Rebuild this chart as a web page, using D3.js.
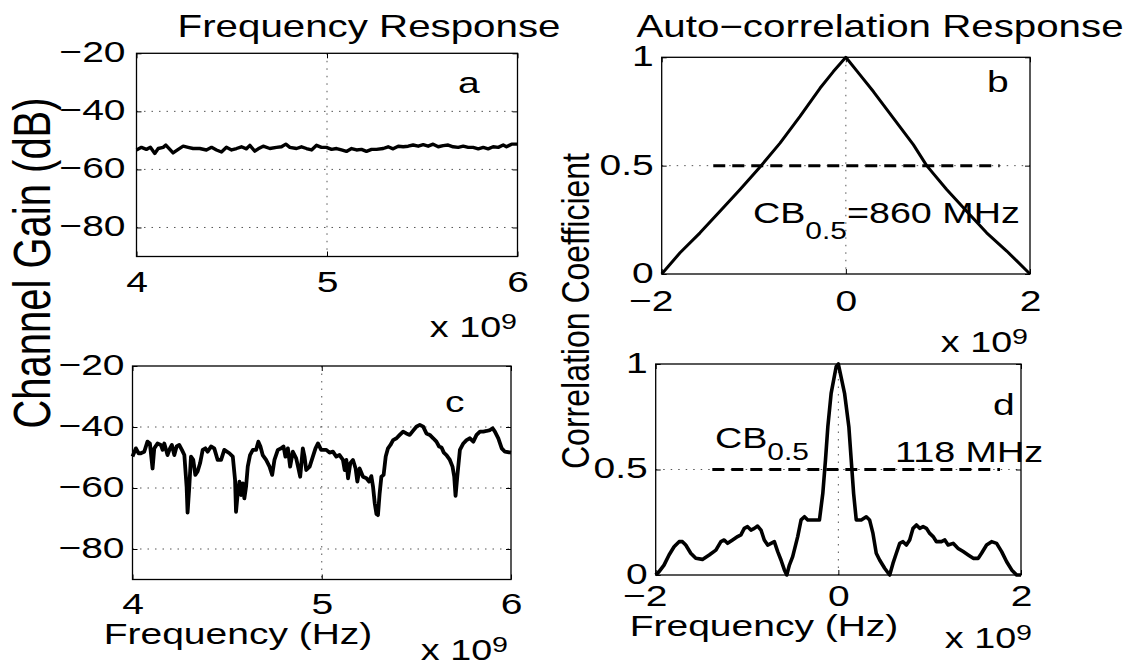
<!DOCTYPE html>
<html>
<head>
<meta charset="utf-8">
<script src="https://cdn.jsdelivr.net/npm/d3@7"></script>
<style>
  html, body { margin: 0; padding: 0; background: #fff; }
  svg { display: block; font-family: "Liberation Sans", Arial, Helvetica, sans-serif; }
  .grid { stroke: #555; stroke-width: 1; stroke-dasharray: 1.5 6; }
</style>
</head>
<body>
<svg id="fig" width="1141" height="666"></svg>
<script>
// ---------- data ----------
// (a) flat channel, frequency in units of 1e9 Hz, gain in dB
const aFreq = [4.000,4.026,4.052,4.073,4.096,4.114,4.140,4.154,4.175,4.192,4.219,4.245,4.271,4.297,4.332,4.367,4.394,4.420,4.446,4.472,4.499,4.525,4.551,4.577,4.595,4.621,4.639,4.665,4.700,4.735,4.761,4.784,4.805,4.840,4.866,4.892,4.919,4.945,4.971,4.997,5.024,5.050,5.076,5.102,5.129,5.155,5.181,5.207,5.234,5.260,5.295,5.321,5.347,5.374,5.400,5.426,5.452,5.479,5.505,5.531,5.557,5.584,5.610,5.636,5.662,5.689,5.715,5.741,5.767,5.794,5.820,5.846,5.872,5.899,5.925,5.942,5.969,6.000];
const aGain = [-53.3,-52.4,-53.1,-52.4,-54.5,-52.8,-52.4,-51.6,-53.1,-54.3,-53.1,-52.0,-52.4,-52.8,-52.8,-53.3,-52.4,-53.3,-54.0,-52.4,-53.3,-52.8,-52.2,-52.9,-51.7,-53.7,-52.9,-52.0,-52.8,-52.4,-52.2,-51.3,-52.4,-52.8,-52.2,-52.8,-53.3,-51.7,-52.4,-52.4,-53.1,-52.8,-53.3,-53.8,-52.8,-53.3,-53.1,-53.8,-53.1,-53.1,-52.8,-52.2,-52.9,-52.0,-52.2,-52.0,-51.6,-52.0,-51.5,-52.0,-51.3,-52.2,-51.8,-51.6,-52.2,-52.4,-52.0,-52.4,-52.4,-52.9,-52.4,-52.9,-52.2,-52.4,-51.6,-52.2,-51.3,-51.3];

// (b) auto-correlation of (a), lag in units of 1e9 Hz
const bLag  = [-2.000,-1.801,-1.584,-1.367,-1.149,-0.932,-0.715,-0.498,-0.281,-0.136,0.000,0.154,0.299,0.516,0.733,0.878,1.095,1.312,1.529,1.747,2.000];
const bCorr = [0,0.098,0.190,0.290,0.390,0.494,0.604,0.727,0.857,0.934,1.0,0.919,0.842,0.719,0.597,0.5,0.390,0.290,0.190,0.106,0];

// (c) frequency-selective channel
const cFreq = [4.000,4.018,4.032,4.044,4.062,4.079,4.092,4.106,4.115,4.132,4.150,4.159,4.168,4.185,4.198,4.208,4.221,4.233,4.247,4.261,4.274,4.286,4.291,4.300,4.309,4.321,4.332,4.344,4.357,4.371,4.385,4.397,4.415,4.432,4.450,4.468,4.485,4.512,4.530,4.542,4.547,4.556,4.565,4.574,4.583,4.591,4.600,4.609,4.621,4.636,4.653,4.665,4.676,4.688,4.706,4.724,4.738,4.750,4.768,4.786,4.798,4.808,4.821,4.833,4.847,4.865,4.877,4.886,4.900,4.909,4.918,4.936,4.953,4.967,4.980,4.997,5.024,5.041,5.059,5.077,5.094,5.112,5.121,5.130,5.139,5.151,5.165,5.179,5.188,5.200,5.218,5.236,5.250,5.262,5.271,5.280,5.289,5.297,5.306,5.315,5.327,5.338,5.350,5.363,5.377,5.395,5.412,5.430,5.447,5.465,5.483,5.500,5.518,5.536,5.553,5.571,5.589,5.606,5.620,5.633,5.645,5.659,5.677,5.691,5.700,5.707,5.716,5.730,5.748,5.765,5.783,5.801,5.818,5.836,5.854,5.871,5.889,5.903,5.915,5.933,5.951,5.968,6.000];
const cGain = [-49.7,-47.0,-48.6,-48.6,-48.1,-44.8,-45.4,-53.6,-47.0,-45.4,-45.9,-47.5,-45.4,-49.2,-47.0,-45.9,-49.2,-46.4,-45.9,-47.5,-49.2,-59.6,-68.1,-59.6,-49.7,-50.8,-55.7,-54.6,-51.9,-47.5,-47.0,-48.1,-46.4,-47.0,-50.8,-50.8,-47.5,-48.6,-49.7,-57.4,-67.8,-61.7,-57.9,-62.3,-58.5,-63.4,-59.6,-53.0,-49.2,-47.5,-47.5,-44.8,-46.4,-49.2,-50.8,-53.0,-55.7,-50.8,-47.5,-47.0,-46.4,-49.7,-47.0,-53.0,-48.1,-50.3,-53.6,-56.3,-47.0,-49.7,-54.1,-53.0,-49.7,-47.0,-45.4,-47.5,-47.5,-48.4,-48.1,-49.7,-49.2,-50.8,-54.1,-50.8,-56.8,-51.9,-50.8,-53.6,-57.9,-53.6,-56.3,-56.8,-57.9,-56.1,-59.6,-65.0,-68.5,-68.9,-61.7,-56.3,-55.7,-49.7,-47.0,-45.9,-44.3,-43.7,-42.6,-41.5,-42.1,-42.6,-41.2,-39.9,-39.3,-39.9,-42.1,-42.6,-43.7,-44.8,-46.4,-46.7,-48.4,-49.2,-50.8,-53.0,-56.3,-62.6,-56.3,-47.5,-45.4,-44.3,-43.7,-44.8,-42.6,-41.5,-41.5,-41.3,-41.0,-40.4,-41.5,-43.7,-47.0,-48.1,-48.4];

// (d) auto-correlation of (c)
const dLag  = [-2.000,-1.963,-1.909,-1.854,-1.799,-1.744,-1.707,-1.671,-1.616,-1.561,-1.488,-1.414,-1.341,-1.286,-1.250,-1.213,-1.158,-1.103,-1.067,-1.030,-0.994,-0.957,-0.920,-0.884,-0.847,-0.811,-0.774,-0.737,-0.701,-0.664,-0.628,-0.591,-0.565,-0.536,-0.500,-0.445,-0.408,-0.371,-0.335,-0.280,-0.207,-0.170,-0.141,-0.115,-0.079,-0.024,0.000,
               0.068,0.115,0.141,0.167,0.196,0.251,0.306,0.342,0.379,0.415,0.452,0.507,0.562,0.598,0.635,0.672,0.708,0.745,0.781,0.818,0.855,0.891,0.928,0.964,1.001,1.038,1.074,1.129,1.166,1.202,1.257,1.312,1.367,1.422,1.477,1.532,1.568,1.623,1.678,1.733,1.788,1.843,1.898,1.952,2.000];
const dCorr = [0,0.016,0.047,0.095,0.134,0.158,0.158,0.142,0.103,0.079,0.074,0.095,0.118,0.158,0.166,0.150,0.166,0.182,0.190,0.221,0.229,0.213,0.221,0.232,0.213,0.166,0.142,0.150,0.158,0.111,0.071,0.024,0,0.047,0.087,0.182,0.261,0.276,0.261,0.261,0.261,0.387,0.545,0.703,0.861,0.987,1.0,
               0.861,0.703,0.545,0.387,0.261,0.261,0.276,0.261,0.197,0.103,0.071,0.032,0,0.055,0.103,0.150,0.158,0.142,0.166,0.221,0.237,0.221,0.229,0.221,0.197,0.182,0.158,0.158,0.166,0.142,0.150,0.126,0.111,0.095,0.079,0.079,0.103,0.142,0.158,0.150,0.111,0.063,0.024,0,0];

// axis ticks
const gainTicks = [-80, -60, -40, -20];
const freqTicks = [4, 5, 6];
const corrTicks = [0, 0.5, 1];
const lagTicks  = [-2, 0, 2];

// 0.5 coherence level and the extent of its marker lines
const halfLevel = 0.5;
const bHalfSpan = [-1.44, 1.67];
const dHalfSpan = [-1.38, 1.77];

// ---------- drawing ----------
const SX = 1.3;            // horizontal stretch applied to all lettering
const FS = 30;             // tick / label font size
const svg = d3.select("#fig");
svg.append("rect").attr("width", 1141).attr("height", 666).attr("fill", "#fff");

const fmtTick = d => String(d).replace("-", "\u2212");

function stretchedText(x, y, str, size, anchor) {
  return svg.append("text")
    .attr("transform", `translate(${x},${y}) scale(${SX},1)`)
    .attr("font-size", size)
    .attr("text-anchor", anchor || "start")
    .attr("fill", "#000")
    .text(str);
}

function drawPanel(p) {
  const x = d3.scaleLinear().domain(p.xDomain).range([p.box.x0, p.box.x1]);
  const y = d3.scaleLinear().domain(p.yDomain).range([p.box.y1, p.box.y0]);
  const g = svg.append("g");

  // dotted grid at interior ticks
  p.xTicks.filter(v => v > p.xDomain[0] && v < p.xDomain[1]).forEach(v => {
    g.append("line").attr("class", "grid")
      .attr("x1", x(v)).attr("x2", x(v)).attr("y1", p.box.y0).attr("y2", p.box.y1);
  });
  p.yTicks.filter(v => v > p.yDomain[0] && v < p.yDomain[1]).forEach(v => {
    g.append("line").attr("class", "grid")
      .attr("x1", p.box.x0).attr("x2", p.box.x1).attr("y1", y(v)).attr("y2", y(v));
  });

  // the measured curve
  const pts = p.xs.map((v, i) => [v, p.ys[i]]);
  g.append("path").datum(pts)
    .attr("d", d3.line().x(d => x(d[0])).y(d => y(d[1])))
    .attr("fill", "none").attr("stroke", "#000")
    .attr("stroke-width", p.lw).attr("stroke-linejoin", "round");

  // half-level marker
  if (p.half) {
    g.append("line")
      .attr("x1", x(p.half.span[0])).attr("x2", x(p.half.span[1]))
      .attr("y1", y(p.half.level)).attr("y2", y(p.half.level))
      .attr("stroke", "#000").attr("stroke-width", 3)
      .attr("stroke-dasharray", "12 7");
  }

  // axes with inward ticks on every side
  const bottom = g.append("g").attr("transform", `translate(0,${p.box.y1})`)
    .call(d3.axisBottom(x).tickValues(p.xTicks).tickFormat(fmtTick)
      .tickSizeInner(-5).tickSizeOuter(0).tickPadding(p.xPad));
  const left = g.append("g").attr("transform", `translate(${p.box.x0},0)`)
    .call(d3.axisLeft(y).tickValues(p.yTicks).tickFormat(fmtTick)
      .tickSizeInner(-5).tickSizeOuter(0).tickPadding(p.yPad / SX));
  g.append("g").attr("transform", `translate(0,${p.box.y0})`)
    .call(d3.axisTop(x).tickValues(p.xTicks).tickFormat(() => "")
      .tickSizeInner(-5).tickSizeOuter(0));
  g.append("g").attr("transform", `translate(${p.box.x1},0)`)
    .call(d3.axisRight(y).tickValues(p.yTicks).tickFormat(() => "")
      .tickSizeInner(-5).tickSizeOuter(0));

  g.selectAll(".domain").remove();
  g.selectAll(".tick line").attr("stroke", "#000").attr("stroke-width", 1);
  [bottom, left].forEach(ax => ax.attr("font-size", FS).attr("font-family", null));
  bottom.selectAll("text").attr("fill", "#000")
    .attr("transform", `scale(${SX},1)`)
    .attr("dx", d => d < 0 ? -11 / SX : 0);
  left.selectAll("text").attr("fill", "#000")
    .attr("transform", `scale(${SX},1)`)
    .attr("dy", "0.28em");

  // frame
  g.append("rect")
    .attr("x", p.box.x0).attr("y", p.box.y0)
    .attr("width", p.box.x1 - p.box.x0).attr("height", p.box.y1 - p.box.y0)
    .attr("fill", "none").attr("stroke", "#000").attr("stroke-width", 1.3);

  return { x, y };
}

drawPanel({
  box: { x0: 136.5, x1: 517.5, y0: 53.3, y1: 256.5 },
  xDomain: [4, 6], yDomain: [-90, -20],
  xTicks: freqTicks, yTicks: gainTicks,
  xs: aFreq, ys: aGain, xPad: 14, yPad: 11, lw: 3.4
});
drawPanel({
  box: { x0: 661.7, x1: 1030, y0: 57.3, y1: 274 },
  xDomain: [-2, 2], yDomain: [0, 1],
  xTicks: lagTicks, yTicks: corrTicks,
  xs: bLag, ys: bCorr, xPad: 16, yPad: 8, lw: 3,
  half: { level: halfLevel, span: bHalfSpan }
});
drawPanel({
  box: { x0: 132.5, x1: 511, y0: 366, y1: 579.5 },
  xDomain: [4, 6], yDomain: [-90, -20],
  xTicks: freqTicks, yTicks: gainTicks,
  xs: cFreq, ys: cGain, xPad: 13, yPad: 8, lw: 3.8
});
drawPanel({
  box: { x0: 655.7, x1: 1021, y0: 364, y1: 575 },
  xDomain: [-2, 2], yDomain: [0, 1],
  xTicks: lagTicks, yTicks: corrTicks,
  xs: dLag, ys: dCorr, xPad: 10, yPad: 8, lw: 3.6,
  half: { level: halfLevel, span: dHalfSpan }
});

// titles
stretchedText(369, 37, "Frequency Response", 31, "middle");
stretchedText(880, 37, "Auto\u2212correlation Response", 31, "middle");

// panel letters
stretchedText(458, 93, "a", FS);
stretchedText(987, 92, "b", FS);
stretchedText(445, 412, "c", FS);
stretchedText(993, 415, "d", FS);

// x-axis labels
stretchedText(238, 644, "Frequency (Hz)", FS, "middle");
stretchedText(764, 636, "Frequency (Hz)", FS, "middle");

// exponent markers
function exponent(xRight, yBase) {
  const t = stretchedText(xRight, yBase, "", 29, "end");
  t.append("tspan").text("x 10");
  t.append("tspan").attr("font-size", 22).attr("dy", -8).text("9");
}
exponent(517, 337);
exponent(1028, 352);
exponent(508, 660);
exponent(1032, 648);

// coherence-bandwidth annotations
function cbLabel(x0, yBase, subDrop, rest) {
  const t = stretchedText(x0, yBase, "", 29, "start");
  t.append("tspan").text("CB");
  t.append("tspan").attr("font-size", 23).attr("dy", subDrop).text("0.5");
  if (rest) t.append("tspan").attr("dy", -subDrop).text(rest);
}
cbLabel(753, 223, 16, "=860 MHz");
cbLabel(715, 448, 12, null);
stretchedText(895, 462, "118 MHz", 29, "start");

// y-axis labels (rotated)
svg.append("text")
  .attr("transform", `translate(50,263) scale(1.29,1) rotate(-90)`)
  .attr("font-size", 40).attr("text-anchor", "middle").attr("fill", "#000")
  .text("Channel Gain (dB)");
svg.append("text")
  .attr("transform", `translate(589,311) scale(1.22,1) rotate(-90)`)
  .attr("font-size", 32).attr("text-anchor", "middle").attr("fill", "#000")
  .text("Correlation Coefficient");
</script>
</body>
</html>
